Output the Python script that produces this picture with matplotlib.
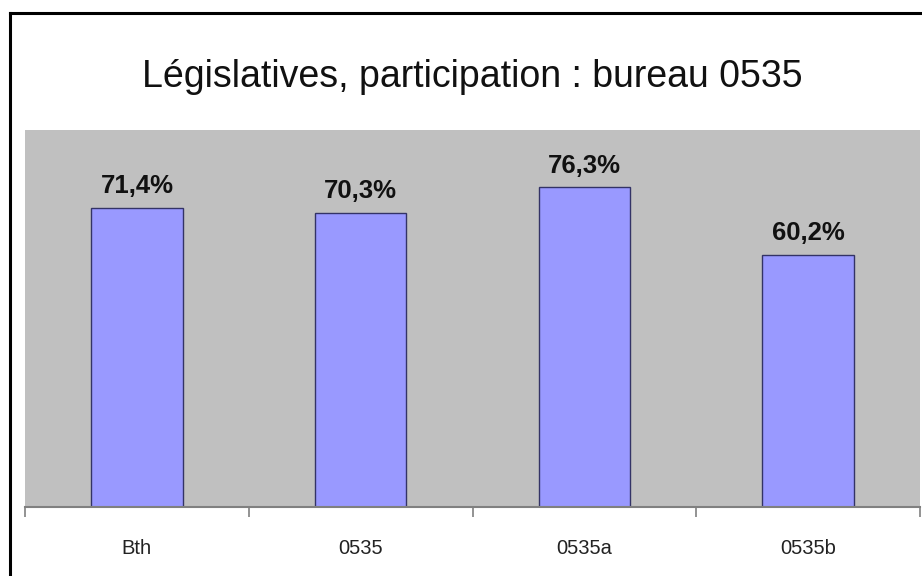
import matplotlib
matplotlib.use("Agg")
import matplotlib.pyplot as plt
from matplotlib.lines import Line2D

categories = ["Bth", "0535", "0535a", "0535b"]
participation = [71.4, 70.3, 76.3, 60.2]
value_labels = ["71,4%", "70,3%", "76,3%", "60,2%"]
title = "Législatives, participation : bureau 0535"

plt.rcParams["font.family"] = ["Liberation Sans", "DejaVu Sans"]

fig = plt.figure(figsize=(9.22, 5.76), dpi=100)
fig.patch.set_facecolor("white")

W, H = 922, 576
ax = fig.add_axes([25 / W, 1 - 507 / H, 895 / W, 377 / H])
ax.set_facecolor("#c0c0c0")

x = range(len(categories))
bars = ax.bar(x, participation, width=0.41, color="#9999ff",
              edgecolor="#333366", linewidth=1.0, zorder=2)

for b, lab in zip(bars, value_labels):
    ax.annotate(lab, (b.get_x() + b.get_width() / 2, b.get_height()),
                xytext=(0, 10.5), textcoords="offset points",
                ha="center", va="baseline", fontsize=18.5, fontweight="bold",
                color="#111111")

ax.set_xlim(-0.5, len(categories) - 0.5)
ax.set_ylim(0, 90)
ax.set_yticks([])
ax.set_xticks(list(x))
ax.set_xticklabels(categories, fontsize=14.5, color="#222222")
ax.set_xticks([i - 0.5 for i in range(len(categories) + 1)], minor=True)
ax.tick_params(axis="x", which="major", length=0, pad=23)
ax.tick_params(axis="x", which="minor", length=7, width=1.2, color="#808080")

for s in ["top", "right", "left"]:
    ax.spines[s].set_visible(False)
ax.spines["bottom"].set_color("#808080")
ax.spines["bottom"].set_linewidth(1.5)

fig.text(472 / W, 1 - 87 / H, title, ha="center", va="baseline",
         fontsize=27, color="#111111")

# black frame round the chart (top and left sides visible)
fig.add_artist(Line2D([10 / W, 10 / W], [0, 1 - 13 / H], color="black",
                      linewidth=2.2, transform=fig.transFigure))
fig.add_artist(Line2D([10 / W, 922 / W], [1 - 13 / H, 1 - 13 / H], color="black",
                      linewidth=2.2, transform=fig.transFigure))

fig.savefig("out.png", dpi=100)
